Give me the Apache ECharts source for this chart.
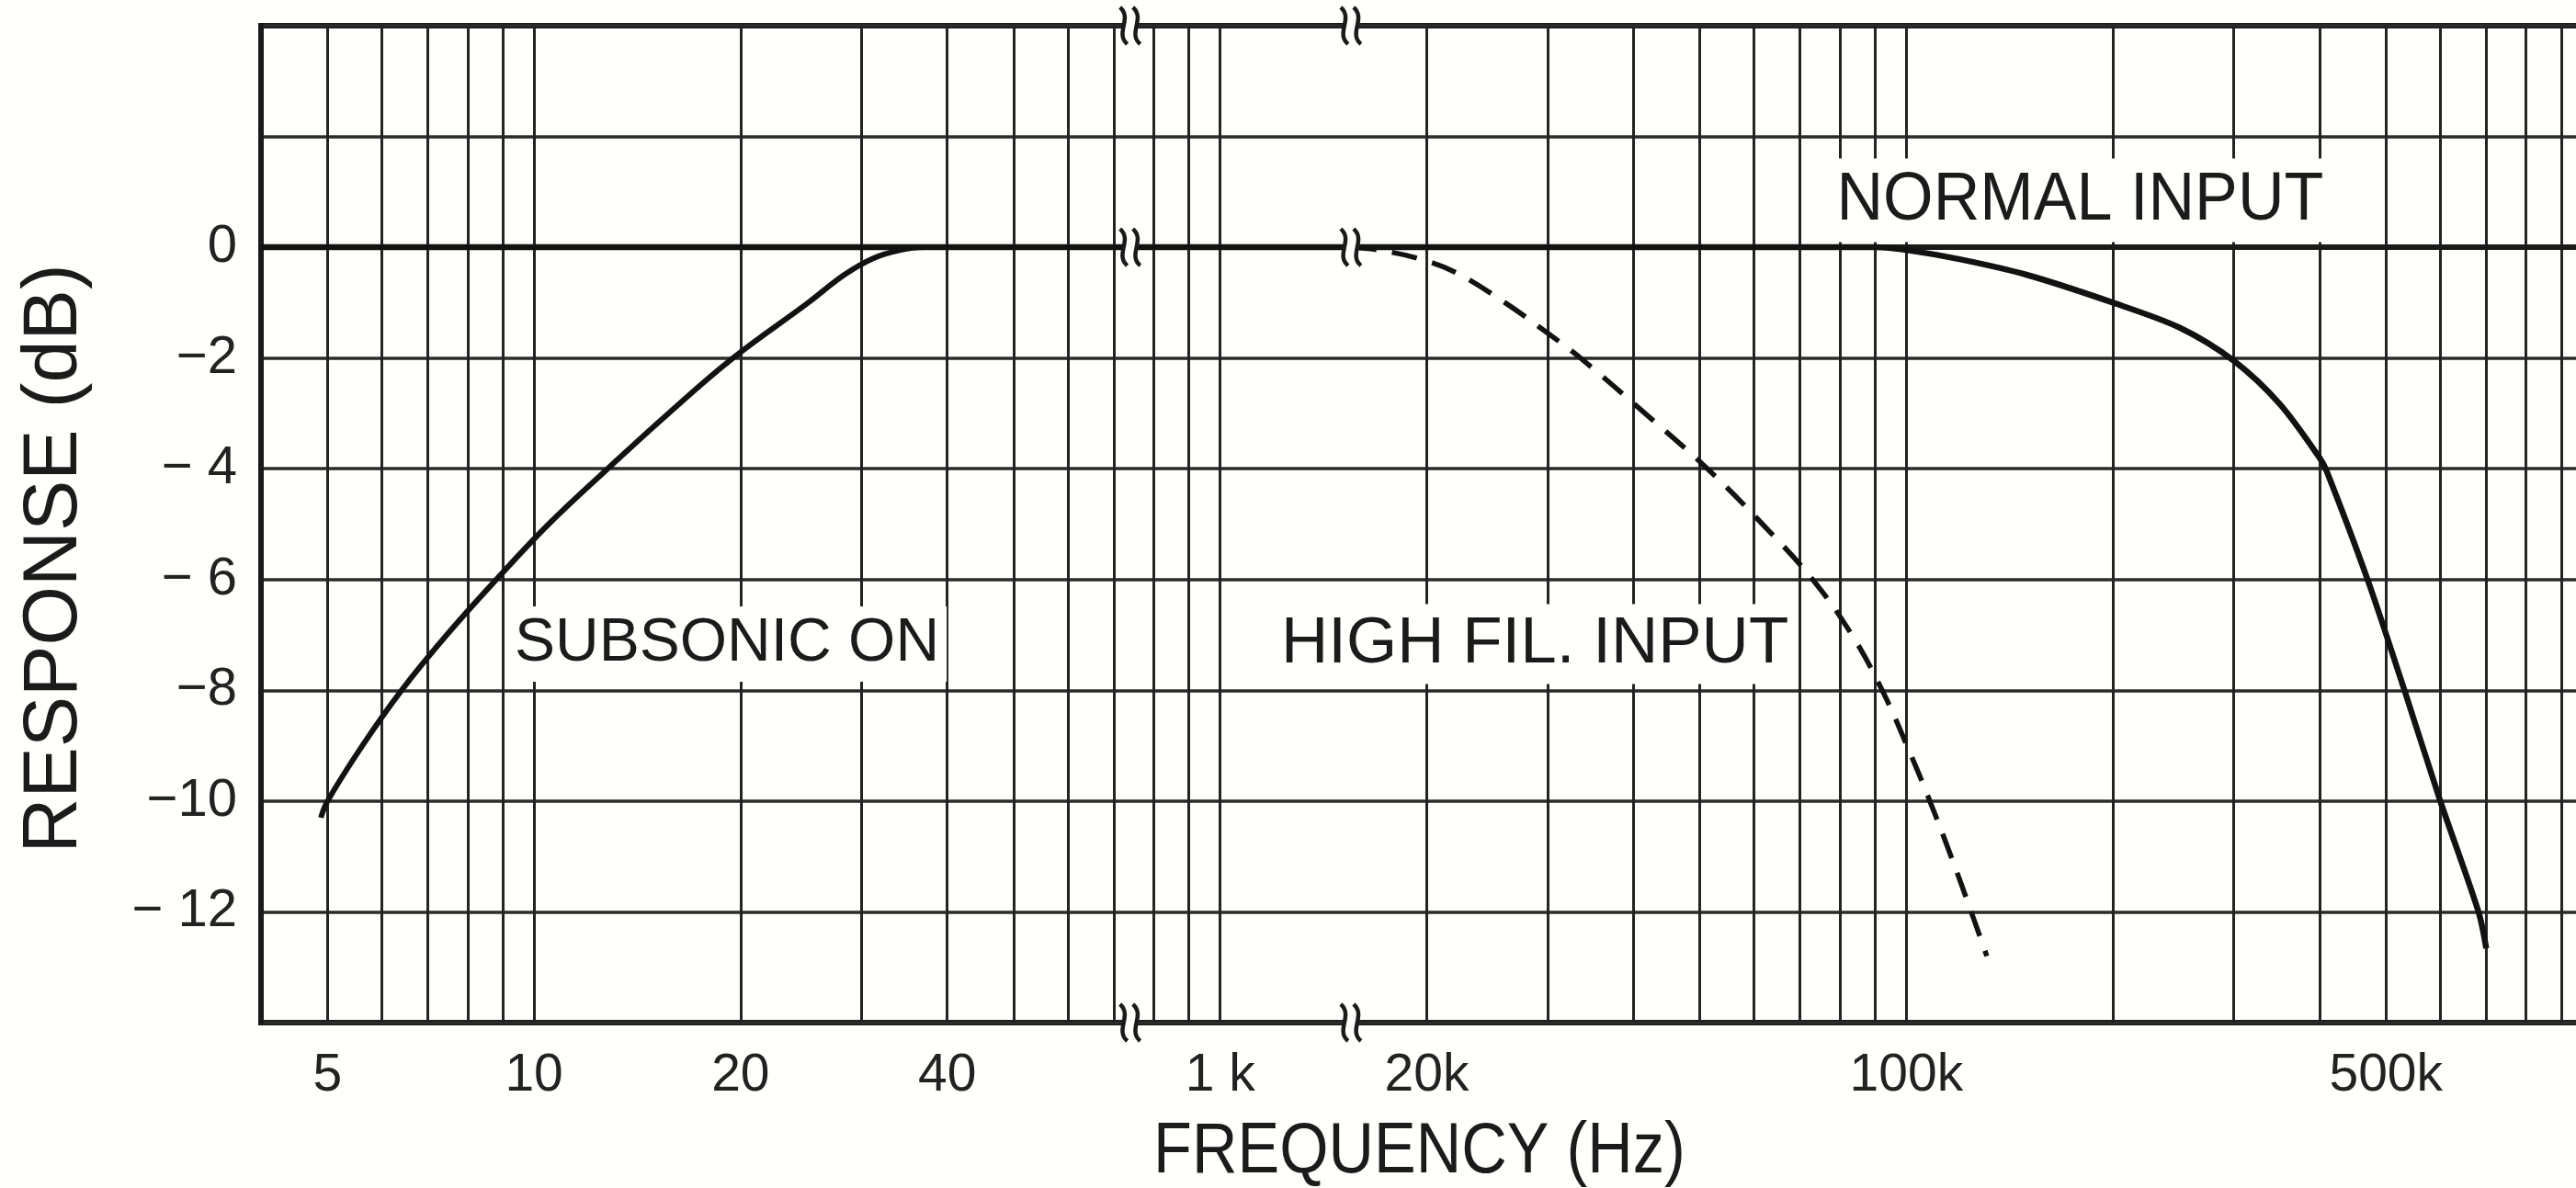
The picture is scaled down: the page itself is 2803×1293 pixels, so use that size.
<!DOCTYPE html>
<html><head><meta charset="utf-8">
<script src="https://cdn.jsdelivr.net/npm/echarts@6/dist/echarts.min.js"></script>
<style>html,body{margin:0;padding:0;background:#fffffb;}#c{width:2803px;height:1293px;}</style>
</head><body><div id="c"></div>
<script>
// ---- data ----
// broken log frequency axis: each segment is shifted by whole decades
const segmentStarts = [4, 739, 15500];
const segmentShift = [0, 1, 2];
const axisMinFreq = 4;
const axisMaxFreq = 1000000;
const breakFreqs = [73.9, 1550];

const gridFreqs = [5, 6, 7, 8, 9, 10, 20, 30, 40, 50, 60, 70,
  800, 900, 1000,
  20000, 30000, 40000, 50000, 60000, 70000, 80000, 90000,
  100000, 200000, 300000, 400000, 500000, 600000, 700000, 800000, 900000];
const xTickFreqs = [5, 10, 20, 40, 1000, 20000, 100000, 500000];
const xTickLabels = ['5', '10', '20', '40', '1 k', '20k', '100k', '500k'];
const yTickValues = [0, -2, -4, -6, -8, -10, -12];
const yTickLabels = ['0', '\u22122', '\u2212 4', '\u2212 6', '\u22128', '\u221210', '\u2212 12'];

const normalFreq = [4, 73.9, 739, 1550, 15500, 60000, 90000, 100000, 120000, 150000, 200000, 250000, 300000, 350000, 400000, 410000, 470000, 532000, 600000, 682000, 700000];
const normalDb   = [0, 0, 0, 0, 0, 0, 0, -0.05, -0.22, -0.5, -1.0, -1.45, -2.05, -2.83, -3.8, -4.05, -6.0, -8.0, -10.0, -12.0, -12.66];

const subsonicFreq = [4.89, 5.0, 5.62, 6.41, 7.46, 8.81, 10.5, 12.8, 15.7, 19.5, 25.1, 28.3, 31.2, 34.2, 37, 45];
const subsonicDb   = [-10.3, -10, -9, -8, -7, -6, -5, -4, -3, -2, -1, -0.5, -0.2, -0.05, 0, 0];

const highFilFreq = [15500, 17000, 19400, 22000, 26000, 30000, 33500, 41600, 51300, 61700, 73000, 83300, 92200, 100200, 108200, 116200, 124300, 131000];
const highFilDb   = [0, -0.05, -0.2, -0.45, -1.0, -1.55, -2, -3, -4, -5, -6, -7, -8, -9, -10, -11, -12, -12.8];

// ---- helpers ----
function toU(f) {
  let k = 0;
  for (let i = 0; i < segmentStarts.length; i++) if (f >= segmentStarts[i]) k = i;
  return Math.log10(f) - segmentShift[k];
}
const pairs = (fs, ds) => fs.map((f, i) => [toU(f), ds[i]]);
const gridU = gridFreqs.map(toU);
const labelU = xTickFreqs.map(toU);

const INK = '#1a1a1a';
const BG = '#fffffb';
const FONT = '"Liberation Sans", Arial, Helvetica, sans-serif';

const chart = echarts.init(document.getElementById('c'), null, {renderer: 'canvas'});
chart.setOption({
  backgroundColor: BG,
  animation: false,
  grid: {left: 284, top: 28, right: -18, bottom: 180, show: true, borderColor: INK, borderWidth: 6,
         backgroundColor: 'transparent', containLabel: false, outerBoundsMode: 'none'},
  xAxis: {
    type: 'value', min: toU(axisMinFreq), max: toU(axisMaxFreq),
    axisLine: {show: true, lineStyle: {color: INK, width: 6}},
    axisTick: {show: false, customValues: gridU},
    splitLine: {show: true, lineStyle: {color: '#232323', width: 3}},
    axisLabel: {
      customValues: labelU, margin: 30, color: '#222', fontSize: 57, fontFamily: FONT,
      formatter: v => { const i = labelU.findIndex(u => Math.abs(u - v) < 1e-6); return i >= 0 ? xTickLabels[i] : ''; }
    }
  },
  yAxis: {
    type: 'value', min: -14, max: 4, interval: 2,
    axisLine: {show: true, lineStyle: {color: INK, width: 6}},
    axisTick: {show: false},
    splitLine: {show: true, lineStyle: {color: '#2b2b2b', width: 3.5}},
    axisLabel: {
      margin: 26, color: '#222', fontSize: 58, fontFamily: FONT,
      formatter: v => { const i = yTickValues.indexOf(v); return i >= 0 ? yTickLabels[i] : ''; }
    }
  },
  series: [
    {name: 'NORMAL INPUT', type: 'line', data: pairs(normalFreq, normalDb), showSymbol: false,
     smooth: 0.3, lineStyle: {color: '#121212', width: 6.5}, z: 5},
    {name: 'SUBSONIC ON', type: 'line', data: pairs(subsonicFreq, subsonicDb), showSymbol: false,
     smooth: 0.4, lineStyle: {color: '#121212', width: 6}, z: 5},
    {name: 'HIGH FIL. INPUT', type: 'line', data: pairs(highFilFreq, highFilDb), showSymbol: false,
     smooth: 0.4, lineStyle: {color: '#121212', width: 5.5, type: [28, 17]}, z: 5}
  ]
});

function txt(id, text, x, y, size, extra) {
  return Object.assign({
    type: 'text', id, x, y, z: 50,
    style: {text, fill: '#1b1b1b', fontSize: size, fontFamily: FONT, align: 'left', verticalAlign: 'middle',
            backgroundColor: BG, padding: [8, 8]}
  }, extra || {});
}

const graphics = [
  txt('t_sub', 'SUBSONIC ON', 552, 701, 66),
  txt('t_hf', 'HIGH FIL. INPUT', 1386, 701, 71),
  txt('t_norm', 'NORMAL INPUT', 1991, 218, 75, {scaleX: 0.935}),
  txt('t_xname', 'FREQUENCY (Hz)', 1248, 1255, 77, {scaleX: 0.89}),
  {type: 'text', id: 't_yname', x: 60, y: 608, rotation: Math.PI / 2, z: 50,
   style: {text: 'RESPONSE (dB)', fill: '#1b1b1b', fontSize: 83, fontFamily: FONT, align: 'center', verticalAlign: 'middle'}}
];

// break markers drawn at the axis break positions
const breakLevels = [4, 0, -14];
breakFreqs.forEach((bf, bi) => {
  breakLevels.forEach((lv, li) => {
    const p = chart.convertToPixel({gridIndex: 0}, [toU(bf), lv]);
    const cx = p[0], cy = p[1];
    graphics.push({type: 'rect', id: 'bgap' + bi + '_' + li, z: 60,
      shape: {x: cx - 6, y: cy - 6, width: 12, height: 12}, style: {fill: BG}});
    [-7, 7].forEach((dx, si) => {
      graphics.push({type: 'bezierCurve', id: 'bm' + bi + '_' + li + '_' + si, z: 61,
        shape: {x1: cx + dx - 4, y1: cy - 20, cpx1: cx + dx + 10, cpy1: cy - 8,
                cpx2: cx + dx - 10, cpy2: cy + 8, x2: cx + dx + 4, y2: cy + 20},
        style: {stroke: INK, lineWidth: 4.5, fill: null}});
    });
  });
});
chart.setOption({graphic: graphics});
</script></body></html>
